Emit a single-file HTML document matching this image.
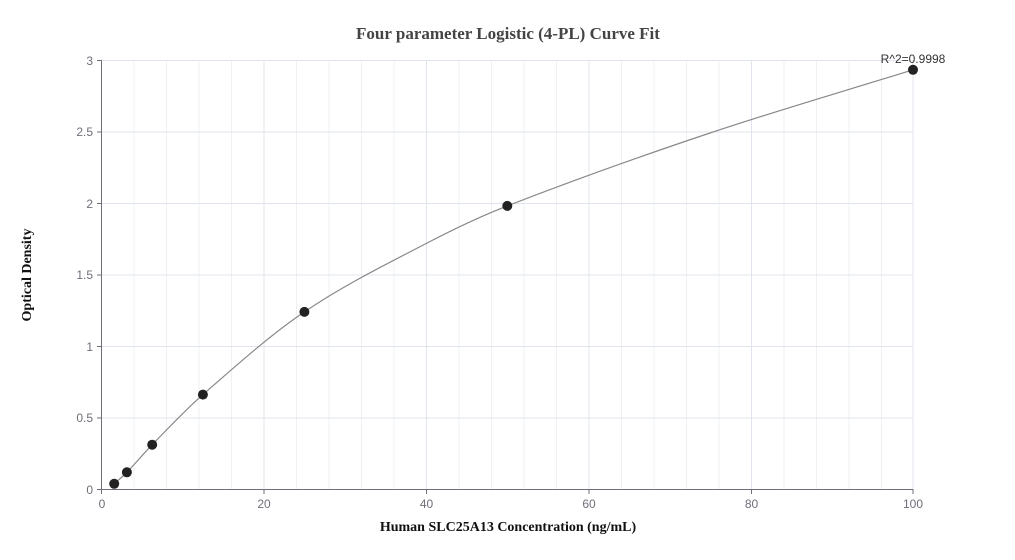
<!DOCTYPE html>
<html><head><style>body{margin:0;background:#fff}svg{display:block}</style></head><body>
<svg width="1015" height="560" xmlns="http://www.w3.org/2000/svg" font-family="Liberation Sans, sans-serif">
<g stroke="#eef0f6" stroke-width="1">
<line x1="134" y1="60" x2="134" y2="489"/><line x1="166.5" y1="60" x2="166.5" y2="489"/><line x1="199" y1="60" x2="199" y2="489"/><line x1="231.5" y1="60" x2="231.5" y2="489"/>
<line x1="296.5" y1="60" x2="296.5" y2="489"/><line x1="329" y1="60" x2="329" y2="489"/><line x1="361.5" y1="60" x2="361.5" y2="489"/><line x1="394" y1="60" x2="394" y2="489"/>
<line x1="459" y1="60" x2="459" y2="489"/><line x1="491.5" y1="60" x2="491.5" y2="489"/><line x1="524" y1="60" x2="524" y2="489"/><line x1="556.5" y1="60" x2="556.5" y2="489"/>
<line x1="621.5" y1="60" x2="621.5" y2="489"/><line x1="654" y1="60" x2="654" y2="489"/><line x1="686.5" y1="60" x2="686.5" y2="489"/><line x1="719" y1="60" x2="719" y2="489"/>
<line x1="784" y1="60" x2="784" y2="489"/><line x1="816.5" y1="60" x2="816.5" y2="489"/><line x1="849" y1="60" x2="849" y2="489"/><line x1="881.5" y1="60" x2="881.5" y2="489"/>
</g>
<g stroke="#e0e4ee" stroke-width="1">
<line x1="264" y1="60" x2="264" y2="489"/><line x1="426.5" y1="60" x2="426.5" y2="489"/><line x1="589" y1="60" x2="589" y2="489"/><line x1="751.5" y1="60" x2="751.5" y2="489"/><line x1="913" y1="60" x2="913" y2="489"/>
<line x1="102" y1="60.5" x2="913" y2="60.5"/><line x1="102" y1="132" x2="913" y2="132"/><line x1="102" y1="203.5" x2="913" y2="203.5"/><line x1="102" y1="275" x2="913" y2="275"/><line x1="102" y1="346.5" x2="913" y2="346.5"/><line x1="102" y1="418" x2="913" y2="418"/>
</g>
<g stroke="#6e7079" stroke-width="1">
<line x1="101.5" y1="60" x2="101.5" y2="489"/><line x1="101.5" y1="489.5" x2="913" y2="489.5"/>
<line x1="97" y1="60.5" x2="101.5" y2="60.5"/><line x1="97" y1="132" x2="101.5" y2="132"/><line x1="97" y1="203.5" x2="101.5" y2="203.5"/><line x1="97" y1="275" x2="101.5" y2="275"/><line x1="97" y1="346.5" x2="101.5" y2="346.5"/><line x1="97" y1="418" x2="101.5" y2="418"/><line x1="97" y1="489.5" x2="101.5" y2="489.5"/>
<line x1="101.5" y1="489" x2="101.5" y2="494"/><line x1="264" y1="489" x2="264" y2="494"/><line x1="426.5" y1="489" x2="426.5" y2="494"/><line x1="589" y1="489" x2="589" y2="494"/><line x1="751.5" y1="489" x2="751.5" y2="494"/><line x1="913" y1="489" x2="913" y2="494"/>
</g>
<g fill="#6e7079" font-size="12" text-anchor="end">
<text x="93" y="65">3</text><text x="93" y="136">2.5</text><text x="93" y="208">2</text><text x="93" y="279">1.5</text><text x="93" y="351">1</text><text x="93" y="422">0.5</text><text x="93" y="494">0</text>
</g>
<g fill="#6e7079" font-size="12" text-anchor="middle">
<text x="102" y="508">0</text><text x="264" y="508">20</text><text x="426.5" y="508">40</text><text x="589" y="508">60</text><text x="751.5" y="508">80</text><text x="913" y="508">100</text>
</g>
<path fill="none" stroke="#888" stroke-width="1.2" d="M114.2,483.8 C118.43,479.97 122.67,476.65 126.9,472.3 C135.33,463.62 143.77,453.32 152.2,444.7 C169.1,427.43 186,409.35 202.9,394.6 C236.73,365.07 270.57,334.77 304.4,311.9 C345.3,284.25 386.2,264.35 427.1,243 C453.83,229.05 480.57,216.3 507.3,205.9 C574.87,179.62 642.43,155.64 710,133 C777.67,110.33 845.33,90.84 913,69.8"/>
<g fill="#222">
<circle cx="114.2" cy="483.8" r="5"/><circle cx="126.9" cy="472.3" r="5"/><circle cx="152.2" cy="444.7" r="5"/><circle cx="202.9" cy="394.6" r="5"/><circle cx="304.4" cy="311.9" r="5"/><circle cx="507.3" cy="205.9" r="5"/><circle cx="913" cy="69.8" r="5"/>
</g>
<text x="913" y="63" font-size="12" fill="#333" text-anchor="middle">R^2=0.9998</text>
<text x="508" y="39" font-family="Liberation Serif, serif" font-weight="bold" font-size="17" fill="#444" text-anchor="middle">Four parameter Logistic (4-PL) Curve Fit</text>
<text x="508" y="531" font-family="Liberation Serif, serif" font-weight="bold" font-size="14" fill="#111" text-anchor="middle">Human SLC25A13 Concentration (ng/mL)</text>
<text transform="translate(31,275) rotate(-90)" font-family="Liberation Serif, serif" font-weight="bold" font-size="14" fill="#111" text-anchor="middle">Optical Density</text>
</svg>
</body></html>
